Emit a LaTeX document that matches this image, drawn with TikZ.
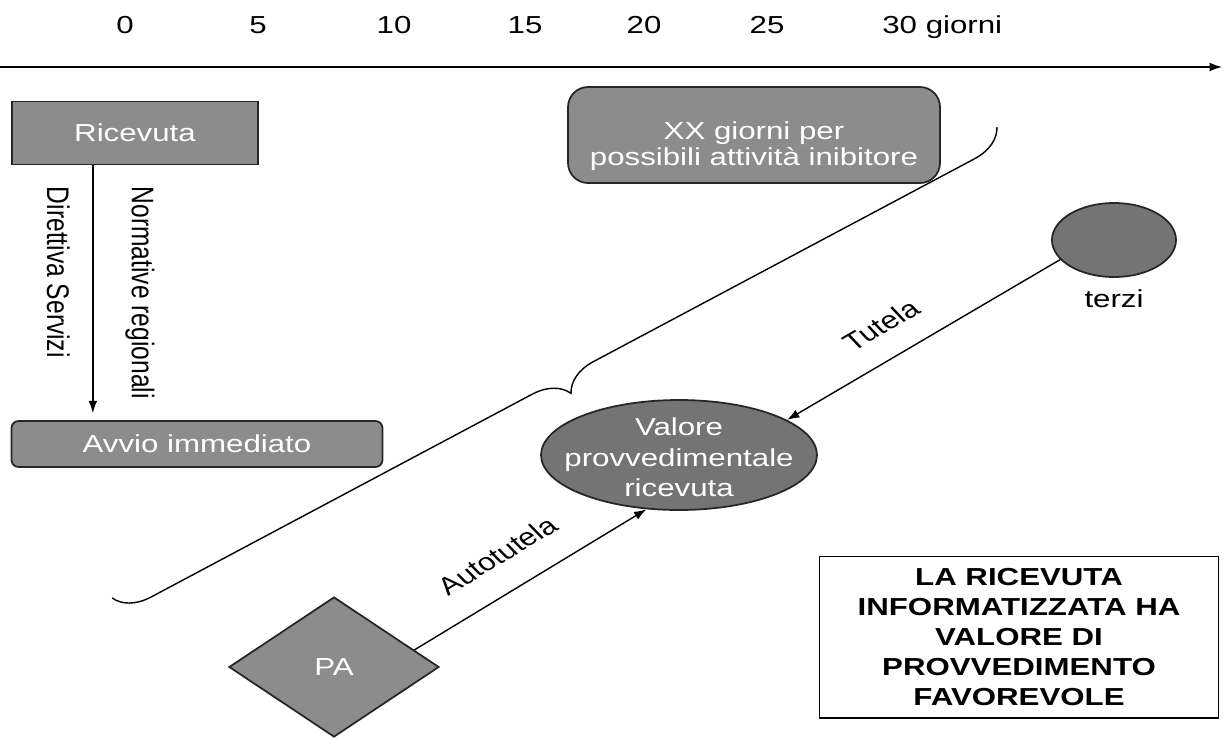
\documentclass[tikz,border=0pt]{standalone}
\usepackage{fontspec}
\setmainfont{Liberation Sans}[FakeStretch=1.27]
\newfontfamily\uprightsans{Liberation Sans}
\usetikzlibrary{arrows.meta,positioning,calc,shapes.geometric,decorations.pathreplacing}
\definecolor{boxgray}{HTML}{8C8C8C}
\definecolor{ovalgray}{HTML}{747474}
\definecolor{edgegray}{HTML}{262626}
\pgfdeclarelayer{bg}
\pgfsetlayers{bg,main}
\newcommand{\inbox}[2][0pt]{\makebox[0pt]{\raisebox{#1}[0pt][0pt]{\begin{tabular}{@{}c@{}}#2\end{tabular}}}}

\tikzset{
  grigio/.style={draw=edgegray,line width=1pt,fill=boxgray,text=white,font=\fontsize{14}{17.5}\selectfont},
  freccia/.style={-{Latex[length=7pt,width=5pt]},line width=0.8pt},
  etichetta/.style={font=\fontsize{14}{17}\selectfont},
  verticale/.style={font=\uprightsans\fontsize{14}{17}\selectfont},
}

\begin{document}
\begin{tikzpicture}[x=0.02cm,y=-0.02cm]
  \useasboundingbox (0,0) rectangle (1224,738);
  \fill[white] (0,0) rectangle (1224,738);

  % asse dei tempi
  \foreach \d/\x in {0/125,5/258,10/394,15/525,20/644,25/767}
    \node[etichetta,anchor=base] (t\d) at (\x,33) {\d};
  \node[etichetta,anchor=base west,inner sep=0pt] (t30) at (882,33) {30 giorni};
  \coordinate (assea) at (0,67);
  \coordinate (asseb) at (1222,67);
  \draw[freccia] (assea) -- (asseb);

  % nodi
  \node[grigio,minimum width=4.92cm,minimum height=1.26cm] (ricevuta) at (135,133) {Ricevuta};
  \node[grigio,rounded corners=0.4cm,minimum width=7.44cm,minimum height=1.92cm,font=\fontsize{14}{15}\selectfont] (attesa) at (754,135) {\inbox[-10.5pt]{XX giorni per\\possibili attività inibitore}};
  \node[grigio,rounded corners=4pt,minimum width=7.42cm,minimum height=0.92cm] (avvio) at (197,444) {Avvio immediato};
  \node[grigio,ellipse,fill=ovalgray,minimum width=5.52cm,minimum height=2.2cm,inner sep=0pt] (valore) at (679,455) {\inbox[-6.5pt]{Valore\\provvedimentale\\ricevuta}};
  \node[grigio,ellipse,fill=ovalgray,minimum width=2.48cm,minimum height=1.48cm,inner sep=0pt] (terzi) at (1114,240) {};
  \node[etichetta,below=0.12cm of terzi] (terzinome) {terzi};
  \node[grigio,diamond,minimum width=4.2cm,minimum height=2.8cm,inner sep=0pt] (pa) at (334,667) {PA};
  \node[draw,line width=0.6pt,minimum width=7.98cm,minimum height=3.24cm,align=center,font=\bfseries\fontsize{14}{17}\selectfont] (nota) at (1019,637) {LA RICEVUTA\\INFORMATIZZATA HA\\VALORE DI\\PROVVEDIMENTO\\FAVOREVOLE};

  % collegamenti
  \begin{pgfonlayer}{bg}
    \draw[freccia] ([yshift=0.1cm]ricevuta.east) -- ([yshift=0.1cm]ricevuta.east -| attesa.west)
      node[etichetta,midway,above,inner sep=2pt] {DIA, silenzio/assenso}
      node[etichetta,midway,below,inner sep=1pt] {modelli COM, ...};
  \end{pgfonlayer}
  \coordinate (discesa) at ($(ricevuta.south west)!0.33!(ricevuta.south east)$);
  \draw[freccia,shorten >=4pt] (discesa) -- (discesa |- avvio.north)
    node[verticale,pos=0.42,xshift=-0.69cm,xscale=1.27,rotate=-90] {Direttiva Servizi}
    node[verticale,pos=0.5,xshift=0.94cm,xscale=1.27,rotate=-90] {Normative regionali};
  \draw[freccia] (terzi.200) -- (valore.18)
    node[verticale,pos=0.59,xshift=-0.36cm,yshift=0.58cm,xscale=1.27,rotate=36.6] {Tutela};
  \draw[freccia] (pa.12) -- (valore.239)
    node[verticale,pos=0.44,xshift=-0.38cm,yshift=0.65cm,xscale=1.27,rotate=37.6] {Autotutela};

  % graffa
  \coordinate (graffaa) at (997,127);
  \coordinate (graffab) at (112,598);
  \draw[line width=0.8pt,decorate,decoration={brace,amplitude=0.7cm}] (graffaa) -- (graffab);
\end{tikzpicture}
\end{document}
